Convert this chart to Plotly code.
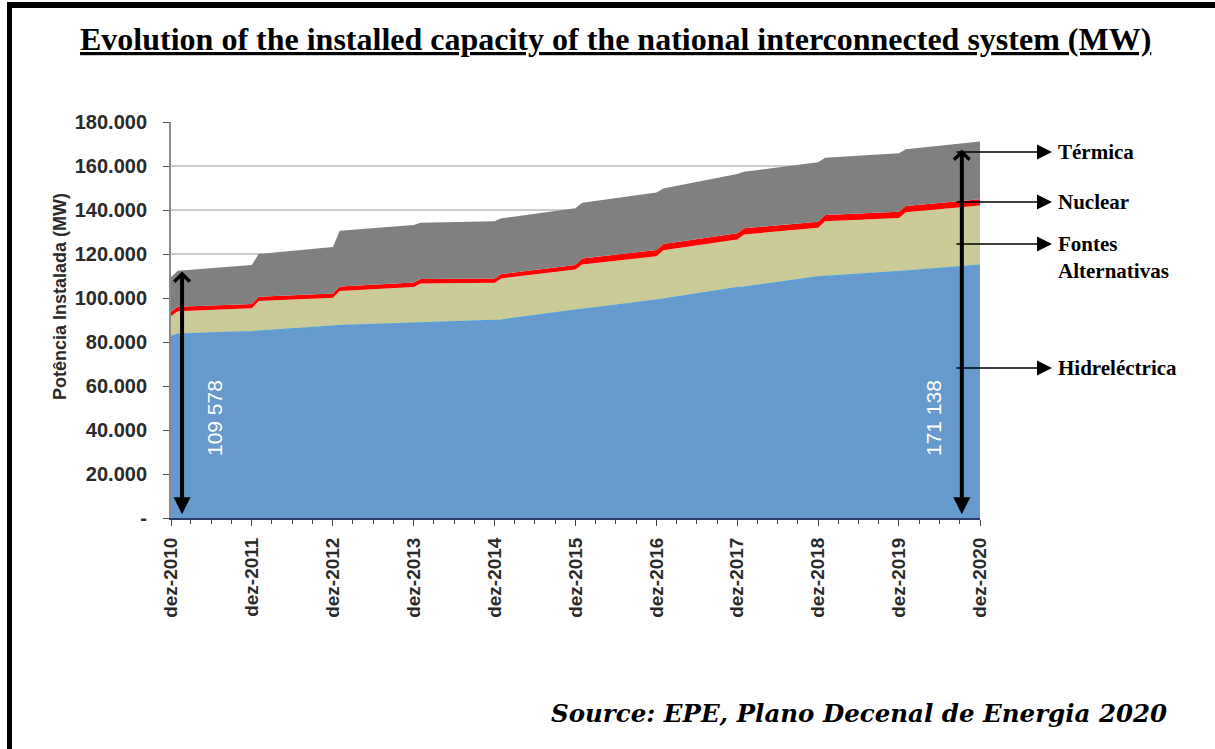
import pandas as pd
import plotly.graph_objects as go

# readings taken off the chart (MW), Dec / Jan breakpoints
dates = ["2010-12-01", "2011-01-01", "2011-12-01", "2012-01-01", "2012-12-01",
         "2013-01-01", "2013-12-01", "2014-01-01", "2014-12-01", "2015-01-01",
         "2015-12-01", "2016-01-01", "2016-12-01", "2017-01-01", "2017-12-01",
         "2018-01-01", "2018-12-01", "2019-01-01", "2019-12-01", "2020-01-01",
         "2020-12-01"]
hidro = [82500, 83600, 84700, 85000, 87200, 87400, 88600, 88700, 89600, 90000,
         94500, 94800, 99100, 99500, 104700, 105000, 109600, 109800, 112000, 112200,
         115000]
alternativas = [9300, 10400, 10600, 13600, 12900, 15800, 16400, 17900, 17300, 18900,
                18500, 20400, 19900, 22200, 21900, 23900, 22300, 25100, 24400, 26800,
                27100]
nuclear = [2000, 2000, 2000, 2000, 2000, 2000, 2000, 2000, 2000, 2000,
           2000, 2800, 2800, 2800, 2800, 2800, 2800, 2800, 2800, 2800,
           2800]
termica = [15800, 16400, 17700, 19400, 21100, 25400, 26200, 25600, 26000, 25300,
           25800, 25300, 26100, 25300, 27000, 25700, 27000, 26100, 26600, 25800,
           26200]

year_ticks = ["2010-12-01", "2011-12-01", "2012-12-01", "2013-12-01", "2014-12-01",
              "2015-12-01", "2016-12-01", "2017-12-01", "2018-12-01", "2019-12-01",
              "2020-12-01"]
year_labels = ["dez-2010", "dez-2011", "dez-2012", "dez-2013", "dez-2014", "dez-2015",
               "dez-2016", "dez-2017", "dez-2018", "dez-2019", "dez-2020"]
y_ticks = [0, 20000, 40000, 60000, 80000, 100000, 120000, 140000, 160000, 180000]
y_labels = ["-", "20.000", "40.000", "60.000", "80.000", "100.000", "120.000",
            "140.000", "160.000", "180.000"]

total_start = 109578
total_end = 171138

W, H = 1215, 749
L, R, T, B = 171, 235, 122, 231
pw, ph = W - L - R, H - T - B


def px(x):
    return (x - L) / pw


def py(y):
    return (H - B - y) / ph


fig = go.Figure()

fig.add_trace(go.Scatter(x=dates, y=hidro, name="Hidreléctrica", stackgroup="one",
                         mode="lines", line=dict(color="#4f9fe0", width=1.2),
                         fillcolor="#6699cc"))
fig.add_trace(go.Scatter(x=dates, y=alternativas, name="Fontes Alternativas",
                         stackgroup="one", mode="lines",
                         line=dict(color="#cbcb9a", width=0), fillcolor="#cbcb9a"))
fig.add_trace(go.Scatter(x=dates, y=nuclear, name="Nuclear", stackgroup="one",
                         mode="lines", line=dict(color="#ff0000", width=0),
                         fillcolor="#ff0000"))
fig.add_trace(go.Scatter(x=dates, y=termica, name="Térmica", stackgroup="one",
                         mode="lines", line=dict(color="#808080", width=0),
                         fillcolor="#808080"))

minor_vals = pd.date_range("2010-12-01", "2020-12-01", freq="3MS")

fig.update_xaxes(
    type="date", range=["2010-12-01", "2020-12-01"],
    tickmode="array", tickvals=year_ticks, ticktext=year_labels, tickangle=-90,
    ticks="outside", ticklen=6, tickcolor="#444", ticklabelstandoff=4,
    tickfont=dict(family="Liberation Sans, Arial", size=19, color="#2a2a2a", weight="bold"),
    minor=dict(tickmode="array", tickvals=minor_vals, ticks="outside", ticklen=4,
               tickcolor="#444", showgrid=False),
    showline=True, linecolor="#2b3a66", linewidth=2, showgrid=False, zeroline=False,
)
fig.update_yaxes(
    range=[0, 180000], tickmode="array", tickvals=y_ticks, ticktext=y_labels,
    ticks="outside", ticklen=6, tickcolor="#555", ticklabelstandoff=12,
    tickfont=dict(family="Liberation Sans, Arial", size=20, color="#2a2a2a", weight="bold"),
    showline=True, linecolor="#8a8a8a", linewidth=2,
    showgrid=True, gridcolor="#cccccc", gridwidth=1.5, zeroline=False,
)

ann = []
# title
ann.append(dict(xref="paper", yref="paper", x=px(615), y=py(39),
                text="Evolution of the installed capacity of the national interconnected system (MW)",
                showarrow=False, xanchor="center", yanchor="middle",
                font=dict(family="Liberation Serif", size=32, color="black",
                          weight="bold", lineposition="under")))
# source
ann.append(dict(xref="paper", yref="paper", x=px(859), y=py(713),
                text="Source: EPE, Plano Decenal de Energia 2020",
                showarrow=False, xanchor="center", yanchor="middle",
                font=dict(family="DejaVu Serif", size=24.5, color="black",
                          weight="bold", style="italic")))
# y axis title
ann.append(dict(xref="paper", yref="paper", x=px(60), y=py(297),
                text="Potência Instalada (MW)", textangle=-90, showarrow=False,
                xanchor="center", yanchor="middle",
                font=dict(family="Liberation Sans, Arial", size=18, color="#2a2a2a",
                          weight="bold")))

# double arrows spanning the totals
for xd, ytop, lab, lx in [("2011-01-20", 112000, total_start, 214),
                          ("2020-09-10", 167500, total_end, 933)]:
    ann.append(dict(xref="x", yref="y", axref="x", ayref="y", x=xd, y=ytop,
                    ax=xd, ay=800, text=" ", font=dict(size=1),
                    showarrow=True, arrowside="end+start", arrowhead=4, arrowsize=0.75,
                    startarrowhead=2, startarrowsize=0.85, arrowwidth=4,
                    arrowcolor="black"))
    ann.append(dict(xref="paper", yref="paper", x=px(lx), y=py(418),
                    text=f"{lab:,}".replace(",", " "), textangle=-90, showarrow=False,
                    xanchor="center", yanchor="middle",
                    font=dict(family="Liberation Sans, Arial", size=21, color="white")))

# right side labels with pointer arrows
labels_right = [("Térmica", 152, 152), ("Nuclear", 202, 202),
                ("Fontes<br>Alternativas", 244, 257), ("Hidreléctrica", 368, 368)]
for txt, yarr, ytxt in labels_right:
    ann.append(dict(xref="paper", yref="paper", x=px(1052), y=py(yarr),
                    ax=-97, ay=0, text=" ", font=dict(size=1), showarrow=True,
                    arrowhead=2, arrowsize=2, arrowwidth=1.5, arrowcolor="black"))
    ann.append(dict(xref="paper", yref="paper", x=px(1056), y=py(ytxt),
                    text=txt, showarrow=False, xanchor="left", yanchor="middle",
                    align="left",
                    font=dict(family="Liberation Serif", size=21, color="black",
                              weight="bold")))

# frame (top and left edge)
shapes = [
    dict(type="line", xref="paper", yref="paper", x0=px(7), x1=px(1215),
         y0=py(5), y1=py(5), line=dict(color="black", width=6)),
    dict(type="line", xref="paper", yref="paper", x0=px(9.5), x1=px(9.5),
         y0=py(2), y1=py(749), line=dict(color="black", width=5)),
]

fig.update_layout(
    width=W, height=H, margin=dict(l=L, r=R, t=T, b=B),
    plot_bgcolor="white", paper_bgcolor="white", showlegend=False,
    annotations=ann, shapes=shapes, template="none",
)

fig.write_html("out.html", config={"displayModeBar": False},
               post_script="document.body.style.margin='0';")
